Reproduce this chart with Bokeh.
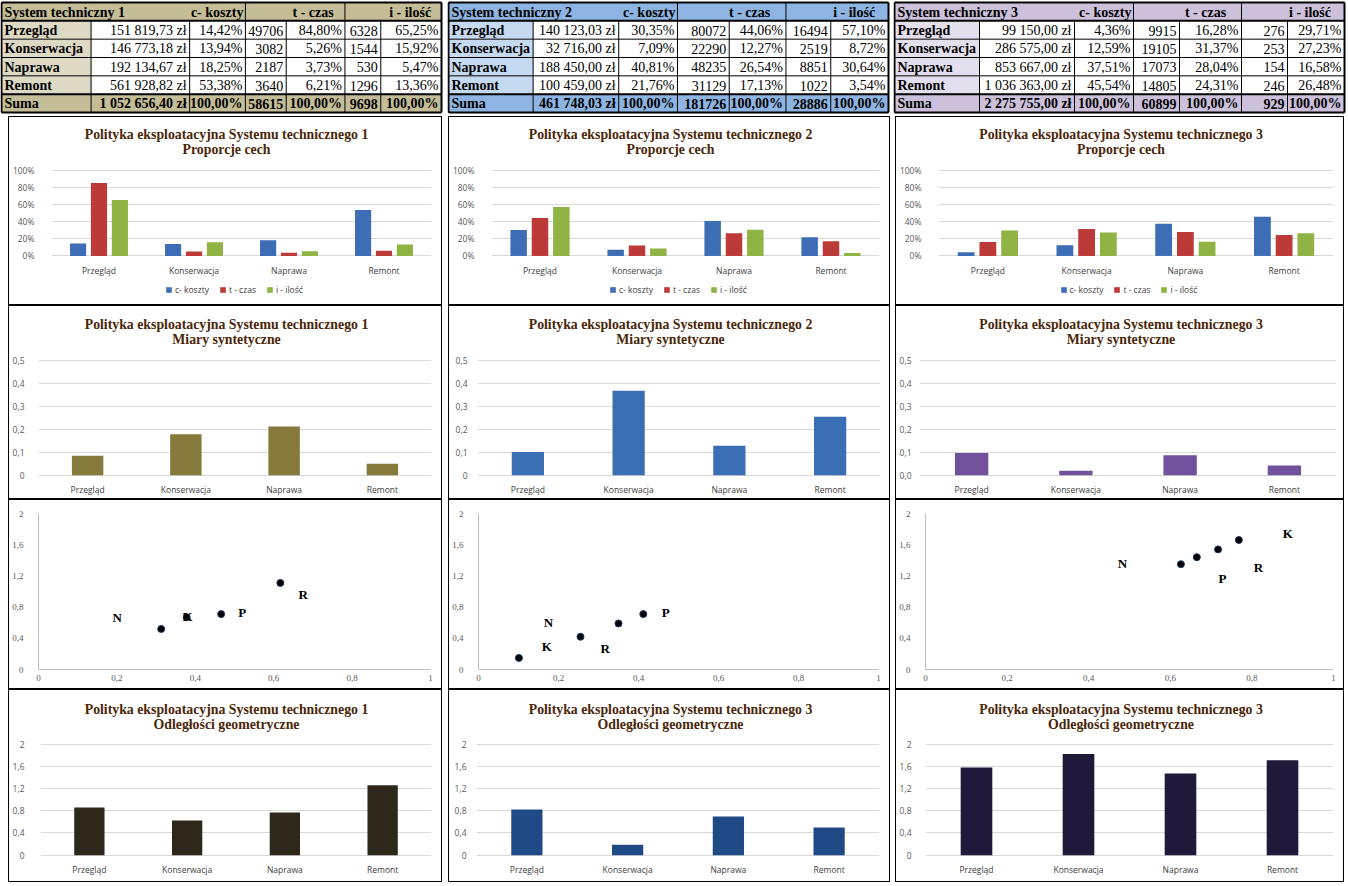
from bokeh.plotting import figure
from bokeh.models import (Range1d, FactorRange, FixedTicker, CustomJSTickFormatter,
                          PrintfTickFormatter, Label, Legend, LegendItem, ColumnDataSource, Spacer)
from bokeh.layouts import row, column
from bokeh.transform import dodge
from bokeh.core.properties import value
from bokeh.embed import file_html
from bokeh.resources import INLINE

# ---------------- data ----------------
categories = ["Przegląd", "Konserwacja", "Naprawa", "Remont"]
series_names = ["c- koszty", "t - czas", "i - ilość"]
system_names = ["System techniczny 1", "System techniczny 2", "System techniczny 3"]

s1_cost = [151819.73, 146773.18, 192134.67, 561928.82]
s1_cost_pct = [14.42, 13.94, 18.25, 53.38]
s1_time = [49706, 3082, 2187, 3640]
s1_time_pct = [84.80, 5.26, 3.73, 6.21]
s1_qty = [6328, 1544, 530, 1296]
s1_qty_pct = [65.25, 15.92, 5.47, 13.36]
s1_sums = [1052656.40, 58615, 9698]

s2_cost = [140123.03, 32716.00, 188450.00, 100459.00]
s2_cost_pct = [30.35, 7.09, 40.81, 21.76]
s2_time = [80072, 22290, 48235, 31129]
s2_time_pct = [44.06, 12.27, 26.54, 17.13]
s2_qty = [16494, 2519, 8851, 1022]
s2_qty_pct = [57.10, 8.72, 30.64, 3.54]
s2_sums = [461748.03, 181726, 28886]

s3_cost = [99150.00, 286575.00, 853667.00, 1036363.00]
s3_cost_pct = [4.36, 12.59, 37.51, 45.54]
s3_time = [9915, 19105, 17073, 14805]
s3_time_pct = [16.28, 31.37, 28.04, 24.31]
s3_qty = [276, 253, 154, 246]
s3_qty_pct = [29.71, 27.23, 16.58, 26.48]
s3_sums = [2275755.00, 60899, 929]

# synthetic measures
s1_synth = [0.085, 0.178, 0.212, 0.050]
s2_synth = [0.101, 0.367, 0.128, 0.254]
s3_synth = [0.097, 0.019, 0.087, 0.042]

# scatter points
s1_pt_x = [0.313, 0.378, 0.466, 0.617]
s1_pt_y = [0.52, 0.67, 0.71, 1.11]
s2_pt_x = [0.101, 0.255, 0.350, 0.412]
s2_pt_y = [0.148, 0.42, 0.59, 0.71]
s3_pt_x = [0.626, 0.665, 0.717, 0.768]
s3_pt_y = [1.35, 1.44, 1.54, 1.66]

# scatter point labels
s1_lbl = ["N", "K", "P", "R"]
s1_lbl_x = [0.201, 0.38, 0.52, 0.675]
s1_lbl_y = [0.67, 0.68, 0.73, 0.96]
s2_lbl = ["N", "K", "R", "P"]
s2_lbl_x = [0.175, 0.171, 0.317, 0.468]
s2_lbl_y = [0.60, 0.30, 0.27, 0.73]
s3_lbl = ["N", "P", "R", "K"]
s3_lbl_x = [0.483, 0.728, 0.816, 0.888]
s3_lbl_y = [1.36, 1.17, 1.31, 1.75]

# geometric distances
s1_dist = [0.86, 0.624, 0.77, 1.26]
s2_dist = [0.824, 0.188, 0.697, 0.497]
s3_dist = [1.58, 1.82, 1.47, 1.71]

# ---------------- style ----------------
SERIF = "Liberation Serif"
SANS = "Open Sans"
TITLE_COLOR = "#4A2608"
GRID = "#D9D9D9"
BOX = {"border": "1px solid black", "box-sizing": "content-box"}
C_BLUE, C_RED, C_GREEN = "#3D6DB5", "#BC3A37", "#8FB443"


def fmt_money(v):
    return f"{v:,.2f}".replace(",", " ").replace(".", ",") + " zł"


def fmt_pct(v):
    return f"{v:.2f}".replace(".", ",") + "%"


def make_table(W, H, name, cost, cpct, tm, tpct, qt, qpct, sums, edges_ref, head_fill, label_fill):
    ref_w = edges_ref[-1]
    e = [1 + v * (W - 3) / ref_w for v in edges_ref]
    rh = 110.0 / 6
    ys = [2 + k * rh for k in range(7)]
    p = figure(width=W, height=H, x_range=Range1d(0, W), y_range=Range1d(H, 0),
               min_border=0, toolbar_location=None, output_backend="svg",
               x_axis_type=None, y_axis_type=None, title=None)
    p.outline_line_color = None
    p.grid.visible = False
    p.quad(left=[e[0]], right=[e[7]], top=[ys[0]], bottom=[ys[1]], fill_color=head_fill, line_color=None)
    p.quad(left=[e[0]] * 4, right=[e[1]] * 4, top=ys[1:5], bottom=ys[2:6], fill_color=label_fill, line_color=None)
    p.quad(left=[e[0]], right=[e[7]], top=[ys[5]], bottom=[ys[6]], fill_color=head_fill, line_color=None)
    x0s, y0s, x1s, y1s = [], [], [], []
    for k in (2, 3, 4):
        x0s.append(e[0]); x1s.append(e[7]); y0s.append(ys[k]); y1s.append(ys[k])
    for j in range(1, 7):
        x0s.append(e[j]); x1s.append(e[j]); y0s.append(ys[1]); y1s.append(ys[6])
    for j in (3, 5):
        x0s.append(e[j]); x1s.append(e[j]); y0s.append(ys[0]); y1s.append(ys[1])
    p.segment(x0=x0s, y0=y0s, x1=x1s, y1=y1s, line_color="black", line_width=1)
    tx0, ty0, tx1, ty1 = [], [], [], []
    for k in (0, 1, 5, 6):
        tx0.append(e[0]); tx1.append(e[7]); ty0.append(ys[k]); ty1.append(ys[k])
    for j in (0, 7):
        tx0.append(e[j]); tx1.append(e[j]); ty0.append(ys[0]); ty1.append(ys[6])
    p.segment(x0=tx0, y0=ty0, x1=tx1, y1=ty1, line_color="black", line_width=2)

    def mid(k):
        return (ys[k] + ys[k + 1]) / 2 + 0.5

    common = dict(text_font=value(SERIF), text_font_size="14px", text_baseline="middle", text_color="black")
    p.text(x=[e[0] + 3], y=[mid(0)], text=[name], text_align="left", text_font_style="bold", **common)
    p.text(x=[e[3] - 2], y=[mid(0)], text=[series_names[0]], text_align="right", text_font_style="bold", **common)
    sc = (W - 3) / ref_w
    p.text(x=[(e[3] + e[5]) / 2 + 18 * sc, (e[5] + e[7]) / 2 + 17 * sc], y=[mid(0), mid(0)],
           text=series_names[1:], text_align="center", text_font_style="bold", **common)
    p.text(x=[e[0] + 3] * 5, y=[mid(k) for k in range(1, 6)], text=categories + ["Suma"],
           text_align="left", text_font_style="bold", **common)
    cols = [[fmt_money(v) for v in cost], [fmt_pct(v) for v in cpct], [str(v) for v in tm],
            [fmt_pct(v) for v in tpct], [str(v) for v in qt], [fmt_pct(v) for v in qpct]]
    xs, yy, tt = [], [], []
    for ci, colvals in enumerate(cols):
        for ri, t in enumerate(colvals):
            xs.append(e[ci + 2] - 3); yy.append(mid(ri + 1)); tt.append(t)
    p.text(x=xs, y=yy, text=tt, text_align="right", text_font_style="normal", **common)
    srow = [fmt_money(sums[0]), fmt_pct(100), str(sums[1]), fmt_pct(100), str(sums[2]), fmt_pct(100)]
    p.text(x=[e[ci + 2] - 3 for ci in range(6)], y=[mid(5)] * 6, text=srow, text_align="right",
           text_font_style="bold", **common)
    return p


def add_titles(p, fw, lines, ys):
    for line, y in zip(lines, ys):
        p.add_layout(Label(x=fw / 2, y=y - 1, x_units="canvas", y_units="canvas", text=line,
                           text_align="center", text_baseline="middle", text_font=SERIF,
                           text_font_size="13.8px", text_font_style="bold", text_color=TITLE_COLOR))


def base_bar(W, H, lines, title_ys, ymax, yticks, yfmt, L, R, T, FH, ystand, lab_off):
    fw, fh = W - 2, H - 2
    top_px = T - 1
    base_px = top_px + FH
    per = ymax / FH
    y0 = -(fh - base_px) * per
    y1 = ymax + top_px * per
    p = figure(width=fw, height=fh, x_range=FactorRange(*categories), y_range=Range1d(y0, y1),
               x_axis_location=None, toolbar_location=None, output_backend="svg", title=None,
               min_border_left=L - 1, min_border_right=R - 1,
               min_border_top=0, min_border_bottom=0, styles=BOX)
    p.outline_line_color = None
    p.xgrid.visible = False
    p.ygrid.grid_line_color = GRID
    p.yaxis.ticker = FixedTicker(ticks=yticks)
    p.yaxis.formatter = yfmt
    p.yaxis.axis_line_color = None
    p.yaxis.major_tick_line_color = None
    p.yaxis.minor_tick_line_color = None
    p.yaxis.major_label_text_font = SANS
    p.yaxis.major_label_text_font_size = "8.5px"
    p.yaxis.major_label_text_color = "#595959"
    p.yaxis.major_label_standoff = ystand
    p.text(x=categories, y=[-lab_off * per] * 4, text=categories, text_align="center",
           text_baseline="middle", text_font=value(SANS), text_font_size="8.5px", text_color="#404040")
    add_titles(p, fw, lines, title_ys)
    return p, per


def title_lines(n, sub):
    return [f"Polityka eksploatacyjna Systemu technicznego {n}", sub]


def props_chart(W, H, n, cpct, tpct, ipct):
    L = 37
    p, per = base_bar(W, H, title_lines(n, "Proporcje cech"), [17, 32], 100, [0, 20, 40, 60, 80, 100],
                      PrintfTickFormatter(format="%d%%"), L, 13, 53, 85, 11, 14)
    src = ColumnDataSource(dict(cat=categories, c=cpct, t=tpct, i=ipct))
    rs = []
    for off, col, color in ((-0.22, "c", C_BLUE), (0.0, "t", C_RED), (0.22, "i", C_GREEN)):
        rs.append(p.vbar(x=dodge("cat", off, range=p.x_range), top=col, width=0.17, source=src,
                         fill_color=color, line_color=None))
    fw = W - 2
    leg = Legend(items=[LegendItem(label=value(nm), renderers=[r]) for nm, r in zip(series_names, rs)],
                 orientation="horizontal", location=(fw / 2 + 1 - 67 - (L - 1), 11),
                 border_line_color=None, background_fill_alpha=0, glyph_width=7, glyph_height=7,
                 label_text_font=SANS, label_text_font_size="8.5px", label_text_color="#404040",
                 label_standoff=3, spacing=10, padding=0, margin=0, label_height=8, label_width=10)
    p.add_layout(leg)
    return p


def synth_chart(W, H, n, vals, color, fmt_code, L, R, ystand):
    p, per = base_bar(W, H, title_lines(n, "Miary syntetyczne"), [18, 33], 0.5, [0, 0.1, 0.2, 0.3, 0.4, 0.5],
                      CustomJSTickFormatter(code=fmt_code), L, R, 54, 114, ystand, 14)
    p.vbar(x=categories, top=vals, width=0.32, fill_color=color, line_color=None)
    return p


def dist_chart(W, H, n, vals, color, L, R, ystand):
    p, per = base_bar(W, H, title_lines(n, "Odległości geometryczne"), [19, 34], 2, [0, 0.4, 0.8, 1.2, 1.6, 2],
                      CustomJSTickFormatter(code="return (Math.round(tick*10)/10).toString().replace('.', ',');"),
                      L, R, 54, 110, ystand, 14)
    p.vbar(x=categories, top=vals, width=0.31, fill_color=color, line_color=None)
    return p


def scatter_chart(W, H, px, py, lbl, lx, ly, L, R):
    fw, fh = W - 2, H - 2
    T, FH = 14, 154
    p = figure(width=fw, height=fh, x_range=Range1d(0, 1), y_range=Range1d(0, 2),
               toolbar_location=None, output_backend="svg", title=None,
               min_border_left=L - 1, min_border_right=R - 1, min_border_top=T - 1,
               min_border_bottom=H - T - FH - 1, styles=BOX)
    p.outline_line_color = None
    p.grid.visible = False
    p.xaxis.ticker = FixedTicker(ticks=[0, 0.2, 0.4, 0.6, 0.8, 1])
    p.yaxis.ticker = FixedTicker(ticks=[0, 0.4, 0.8, 1.2, 1.6, 2])
    code = "return (Math.round(tick*10)/10).toString().replace('.', ',');"
    p.xaxis.formatter = CustomJSTickFormatter(code=code)
    p.yaxis.formatter = CustomJSTickFormatter(code=code)
    p.axis.axis_line_color = "#BFBFBF"
    p.axis.major_tick_line_color = None
    p.axis.minor_tick_line_color = None
    p.axis.major_tick_out = 0
    p.axis.major_tick_in = 0
    p.axis.minor_tick_out = 0
    p.axis.major_label_text_font = SERIF
    p.axis.major_label_text_font_size = "9px"
    p.axis.major_label_text_color = "#595959"
    p.yaxis.major_label_standoff = 15
    p.xaxis.major_label_standoff = 5
    p.scatter(x=px, y=py, size=7, fill_color="black", line_color="#1F3864", line_width=1)
    p.text(x=lx, y=ly, text=lbl, text_font=value(SERIF), text_font_style="bold", text_font_size="13px",
           text_align="center", text_baseline="middle", text_color="black")
    return p


# ---------------- layout ----------------
TH = 116
t1 = make_table(443, TH, system_names[0], s1_cost, s1_cost_pct, s1_time, s1_time_pct, s1_qty, s1_qty_pct,
                s1_sums, [0, 90, 189, 245, 286, 345, 381, 442], "#C4BD97", "#DDD9C4")
t2 = make_table(443, TH, system_names[1], s2_cost, s2_cost_pct, s2_time, s2_time_pct, s2_qty, s2_qty_pct,
                s2_sums, [0, 85, 171, 230, 282, 339, 384, 442], "#8DB4E2", "#C5D9F1")
t3 = make_table(453, TH, system_names[2], s3_cost, s3_cost_pct, s3_time, s3_time_pct, s3_qty, s3_qty_pct,
                s3_sums, [0, 85, 180, 239, 285, 347, 393, 450], "#CCC0DA", "#E4DFEC")

CW = [434, 442, 449]


def chart_row(charts):
    return row(Spacer(width=8, height=10), charts[0], Spacer(width=6, height=10), charts[1],
               Spacer(width=5, height=10), charts[2], spacing=0)


r2 = [props_chart(CW[0], 189, 1, s1_cost_pct, s1_time_pct, s1_qty_pct),
      props_chart(CW[1], 189, 2, s2_cost_pct, s2_time_pct, s2_qty_pct),
      props_chart(CW[2], 189, 3, s3_cost_pct, s3_time_pct, s3_qty_pct)]
fz = "return tick == 0 ? '0' : tick.toFixed(1).replace('.', ',');"
f0 = "return tick.toFixed(1).replace('.', ',');"
r3 = [synth_chart(CW[0], 194, 1, s1_synth, "#857A3B", fz, 28, 13, 8),
      synth_chart(CW[1], 194, 2, s2_synth, "#3A6EB5", fz, 29, 12, 4),
      synth_chart(CW[2], 194, 3, s3_synth, "#71519B", f0, 21, 10, 2)]
r4 = [scatter_chart(CW[0], 190, s1_pt_x, s1_pt_y, s1_lbl, s1_lbl_x, s1_lbl_y, 26, 14),
      scatter_chart(CW[1], 190, s2_pt_x, s2_pt_y, s2_lbl, s2_lbl_x, s2_lbl_y, 26, 14),
      scatter_chart(CW[2], 190, s3_pt_x, s3_pt_y, s3_lbl, s3_lbl_x, s3_lbl_y, 27, 13)]
r5 = [dist_chart(CW[0], 193, 1, s1_dist, "#2D2819", 30, 13, 10),
      dist_chart(CW[1], 193, 3, s2_dist, "#1F4A85", 28, 13, 4),
      dist_chart(CW[2], 193, 3, s3_dist, "#21193A", 30, 13, 8)]

layout = column(row(t1, Spacer(width=4, height=10), t2, Spacer(width=3, height=10), t3, spacing=0),
                chart_row(r2), chart_row(r3), chart_row(r4), chart_row(r5), spacing=0)

open("out.html", "w").write(file_html(layout, INLINE))
